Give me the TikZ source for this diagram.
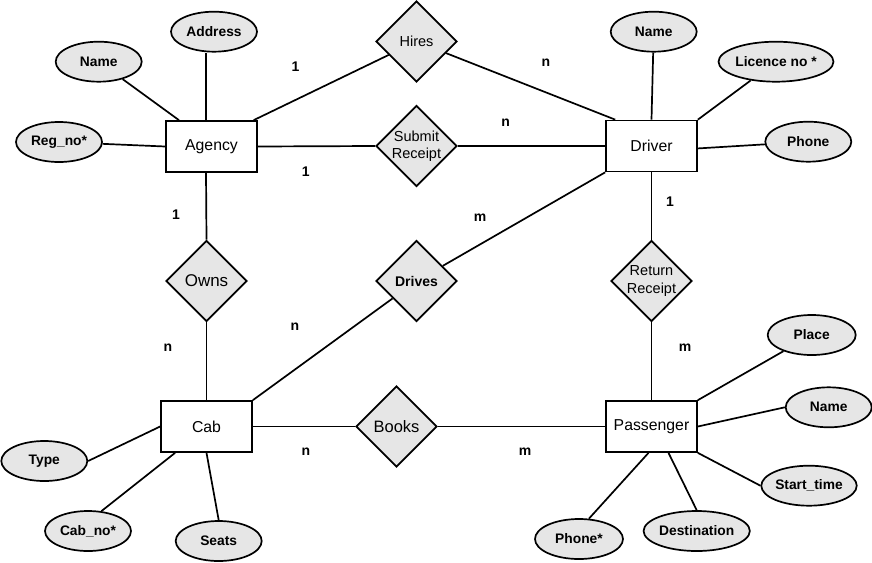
\documentclass[tikz,border=0pt]{standalone}
\usepackage{fontspec}
\setmainfont{Liberation Sans}
\usetikzlibrary{shapes.geometric}
\definecolor{shade}{HTML}{E6E6E6}
\tikzset{
  entity/.style={draw, line width=1.7pt, fill=white, minimum width=91pt,
    minimum height=51pt, inner sep=0pt, font=\fontsize{15.8}{18}\selectfont},
  relation/.style={draw, diamond, line width=1.7pt, fill=shade,
    minimum width=81pt, minimum height=81pt, inner sep=0pt},
  rtext/.style={font=\fontsize{14.5}{17.5}\selectfont, align=center},
  attr/.style={draw, ellipse, line width=1.7pt, fill=shade, minimum height=40pt,
    minimum width=86pt, inner sep=0pt, font=\bfseries\fontsize{13.8}{16}\selectfont},
  card/.style={font=\bfseries\fontsize{14}{16}\selectfont},
  link/.style={line width=1.7pt},
}
\begin{document}
\begin{tikzpicture}[x=1pt, y=-1pt]
\useasboundingbox (0,0) rectangle (872,562);

% entities
\node[entity] (ag) at (211.5,146.5) {Agency};
\node[entity] (dr) at (651.5,146) {Driver};
\node[entity] (cb) at (206.5,426.5) {Cab};
\node[entity] (ps) at (651.5,426.5) {Passenger};

% relationships
\node[relation, label={[rtext]center:Hires}] (hi) at (416.5,41.5) {};
\node[relation, label={[rtext]center:Submit\\Receipt}] (sr) at (416.5,146) {};
\node[relation, label={[rtext, font=\bfseries\fontsize{14}{17}\selectfont]center:Drives}] (dv) at (416.5,281) {};
\node[relation, label={[rtext]center:Return\\Receipt}] (rr) at (651.5,281) {};
\node[relation, label={[rtext, font=\fontsize{17}{18}\selectfont]center:Owns}] (ow) at (206.5,281) {};
\node[relation, label={[rtext, font=\fontsize{16.5}{18}\selectfont]center:Books}] (bk) at (396.5,426.5) {};

% attributes of Agency
\node[attr] (agname) at (98.7,61.7) {Name};
\node[attr] (agaddr) at (214,31.7) {Address};
\node[attr] (agreg) at (59,142) {Reg\_no*};
% attributes of Driver
\node[attr] (drname) at (653.7,31.7) {Name};
\node[attr, minimum width=101pt] (drlic) at (776,61.7) {Licence no *};
\node[attr] (drphone) at (808.3,141.7) {Phone};
% attributes of Cab
\node[attr] (cbtype) at (44.3,461) {Type};
\node[attr] (cbno) at (88,531) {Cab\_no*};
\node[attr] (cbseats) at (218.7,541) {Seats};
% attributes of Passenger
\node[attr, minimum width=88pt] (psplace) at (811.7,335) {Place};
\node[attr] (psname) at (828.7,407.3) {Name};
\node[attr, minimum width=87pt] (psstart) at (809,485.7) {Start\_time};
\node[attr, minimum width=78pt] (psdest) at (696.7,531) {Destination};
\node[attr, minimum width=88pt] (psphone) at (579,539) {Phone*};

% attribute links
\draw[link] (agname) -- (ag.141);
\draw[link] (ag.north -| 206,0) -- (agaddr.south -| 206,0);
\draw[link] (agreg) -- (ag.west);
\draw[link] (dr.north) -- (drname);
\draw[link] (dr.north east) -- (drlic);
\draw[link] (dr.-3) -- (drphone);
\draw[link] (cb.west) -- (cbtype.east);
\draw[link] (cb.220) -- (cbno.56);
\draw[link] (cb.south) -- (cbseats.north);
\draw[link] (ps.north east) -- (psplace);
\draw[link] (ps.east) -- (psname.west);
\draw[link] (ps.south east) -- (psstart.west);
\draw[link] ([xshift=17pt]ps.south) -- (psdest.north);
\draw[link] ([xshift=-3pt]ps.south) -- (psphone.64);

% relationship links
\draw[link] (ag.32) -- (hi);
\draw[link] (hi) -- (dr.144);
\draw[link] (ag.east) -- (sr.west);
\draw[link] (sr.east) -- (dr.west);
\draw[link] (dr.south west) -- (dv);
\draw[link] (dv) -- (cb.north east);
\draw[link] (dr.south) -- (rr.north);
\draw[link] (rr.south) -- (ps.north);
\draw[link] (ag.south -| 206,0) -- (ow.north);
\draw[link] (ow.south) -- (cb.north);
\draw[link] (cb.east) -- (bk.west);
\draw[link] (bk.east) -- (ps.west);

% cardinalities
\node[card] (c1) at (295.5,66.7) {1};
\node[card] (c2) at (546,62.7) {n};
\node[card] (c3) at (505.7,122.3) {n};
\node[card] (c4) at (305.7,171.7) {1};
\node[card] (c5) at (480,217.3) {m};
\node[card] (c6) at (176,215) {1};
\node[card] (c7) at (168,348) {n};
\node[card] (c8) at (295,327) {n};
\node[card] (c9) at (670,202) {1};
\node[card] (c10) at (685,347.7) {m};
\node[card] (c11) at (306,452) {n};
\node[card] (c12) at (525,452) {m};
\end{tikzpicture}
\end{document}
